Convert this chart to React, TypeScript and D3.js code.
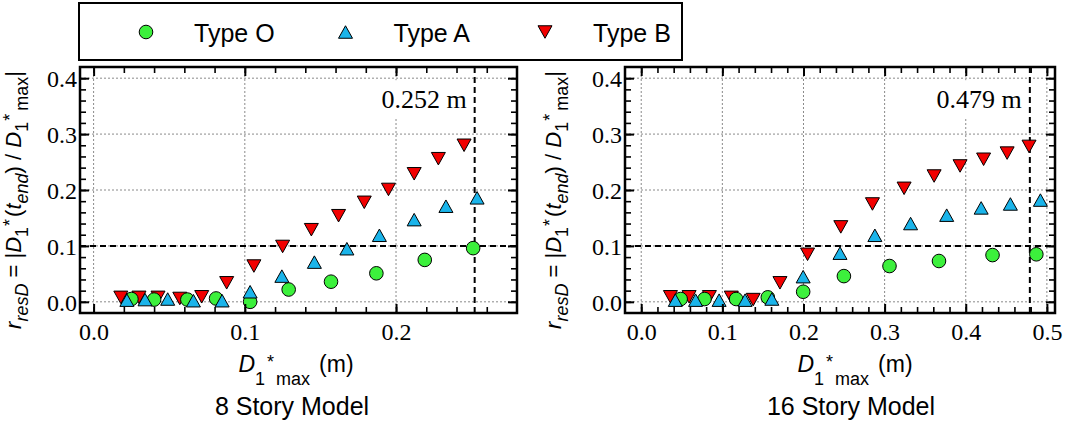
import React, { useEffect, useRef } from 'react';
import * as d3 from 'd3';

type Pt = [number, number];

// series names / colours (legend order)
const seriesNames = ['Type O', 'Type A', 'Type B'];
const seriesColors = ['#3cf03c', '#1ab4ea', '#f20000'];
const seriesShapes = ['circle', 'up', 'down'];

// 8 story model: [D1*max (m), r_resD]
const story8TypeO: Pt[] = [
  [0.025, 0.005], [0.040, 0.004], [0.062, 0.004], [0.081, 0.006], [0.1035, 0.0],
  [0.129, 0.022], [0.157, 0.036], [0.187, 0.051], [0.219, 0.075], [0.251, 0.096],
];
const story8TypeA: Pt[] = [
  [0.022, 0.003], [0.034, 0.004], [0.049, 0.005], [0.066, 0.002], [0.085, 0.002],
  [0.1035, 0.018], [0.1245, 0.046], [0.146, 0.071], [0.1675, 0.095], [0.189, 0.119],
  [0.212, 0.147], [0.233, 0.171], [0.2536, 0.186],
];
const story8TypeB: Pt[] = [
  [0.018, 0.008], [0.030, 0.008], [0.0426, 0.008], [0.057, 0.006], [0.0715, 0.009],
  [0.088, 0.034], [0.106, 0.064], [0.125, 0.099], [0.144, 0.129], [0.162, 0.154],
  [0.179, 0.178], [0.195, 0.201], [0.212, 0.229], [0.228, 0.256], [0.245, 0.280],
];

// 16 story model
const story16TypeO: Pt[] = [
  [0.0486, 0.005], [0.078, 0.005], [0.117, 0.005], [0.156, 0.008], [0.1996, 0.018],
  [0.2498, 0.046], [0.306, 0.064], [0.367, 0.073], [0.433, 0.0836], [0.487, 0.085],
];
const story16TypeA: Pt[] = [
  [0.042, 0.003], [0.067, 0.003], [0.096, 0.003], [0.128, 0.003], [0.161, 0.005],
  [0.1996, 0.045], [0.245, 0.087], [0.288, 0.119], [0.332, 0.140], [0.3765, 0.155],
  [0.419, 0.168], [0.455, 0.175], [0.492, 0.182],
];
const story16TypeB: Pt[] = [
  [0.036, 0.009], [0.059, 0.009], [0.084, 0.009], [0.111, 0.008], [0.138, 0.004],
  [0.171, 0.034], [0.205, 0.085], [0.246, 0.134], [0.285, 0.175], [0.324, 0.203],
  [0.361, 0.225], [0.393, 0.243], [0.422, 0.255], [0.451, 0.266], [0.478, 0.278],
];

const panelTitles = ['8 Story Model', '16 Story Model'];
const limitValues = [0.252, 0.479];
const limitLabels = ['0.252 m', '0.479 m'];
const thresholdValue = 0.1;
const yTickValues = [0, 0.1, 0.2, 0.3, 0.4];
const xTickValues = [
  [0, 0.1, 0.2],
  [0, 0.1, 0.2, 0.3, 0.4, 0.5],
];

const SERIF = '"Liberation Serif", "Times New Roman", serif';
const SANS = '"Liberation Sans", Arial, sans-serif';

const W = 1065;
const H = 426;

type Part = { t: string; size: number; italic?: boolean; dx?: number; dy?: number };

const appendParts = (text: d3.Selection<SVGTextElement, unknown, null, undefined>, parts: Part[]) => {
  parts.forEach(p => {
    text
      .append('tspan')
      .style('font-size', `${p.size}px`)
      .style('font-style', p.italic ? 'italic' : 'normal')
      .attr('dx', p.dx || 0)
      .attr('dy', p.dy || 0)
      .text(p.t);
  });
};

const yLabelParts: Part[] = [
  { t: 'r', size: 22, italic: true },
  { t: 'resD', size: 18, italic: true, dy: 7 },
  { t: ' = |', size: 22, dy: -7 },
  { t: 'D', size: 22, italic: true },
  { t: '1', size: 18, dy: 7 },
  { t: '*', size: 18, dx: 1, dy: -12 },
  { t: '(', size: 22, dx: 2, dy: 5 },
  { t: 't', size: 22, italic: true },
  { t: 'end', size: 18, italic: true, dy: 7 },
  { t: ') / ', size: 22, dy: -7 },
  { t: 'D', size: 22, italic: true },
  { t: '1', size: 18, dy: 7 },
  { t: '*', size: 18, dx: 1, dy: -12 },
  { t: 'max', size: 18, dx: 3, dy: 12 },
  { t: '|', size: 22, dy: -7 },
];

const xLabelParts: Part[] = [
  { t: 'D', size: 23, italic: true },
  { t: '1', size: 18, dy: 13 },
  { t: '*', size: 18, dx: 2, dy: -17 },
  { t: 'max', size: 18, dx: 2, dy: 17 },
  { t: '(m)', size: 23, dx: 9, dy: -13 },
];

const shapePath = (shape: string) => {
  const w = 14;
  const h = 12.5;
  if (shape === 'up') return `M0,${-h / 2}L${w / 2},${h / 2}L${-w / 2},${h / 2}Z`;
  if (shape === 'down') return `M0,${h / 2}L${w / 2},${-h / 2}L${-w / 2},${-h / 2}Z`;
  return d3.symbol().type(d3.symbolCircle).size(Math.PI * 6.8 * 6.8)() as string;
};

const inside = (lo: number, hi: number, step: number) =>
  d3
    .range(Math.ceil(lo / step - 1e-6), Math.floor(hi / step + 1e-6) + 1)
    .map(i => +(i * step).toFixed(4))
    .filter(v => v > lo + 1e-6 && v < hi - 1e-6);

const App: React.FC = () => {
  const svgRef = useRef<SVGSVGElement>(null);

  useEffect(() => {
    if (!svgRef.current) return;
    const svg = d3.select(svgRef.current);
    svg.selectAll('*').remove();

    const layouts = [
      { left: 80, right: 517, xDomain: [-0.009, 0.28], yLabelX: 21, titleX: 296 },
      { left: 625, right: 1055, xDomain: [-0.02, 0.51], yLabelX: 561, titleX: 855 },
    ];
    const top = 67;
    const bottom = 313;
    const yDomain = [-0.02, 0.42];
    const data = [
      [story8TypeO, story8TypeA, story8TypeB],
      [story16TypeO, story16TypeA, story16TypeB],
    ];
    const drawOrder = [2, 0, 1];

    layouts.forEach((lay, pi) => {
      const x = d3.scaleLinear().domain(lay.xDomain).range([lay.left, lay.right]);
      const y = d3.scaleLinear().domain(yDomain).range([bottom, top]);
      const g = svg.append('g');

      // grid
      g.selectAll('.vgrid')
        .data(xTickValues[pi])
        .enter()
        .append('line')
        .attr('x1', d => x(d))
        .attr('x2', d => x(d))
        .attr('y1', top)
        .attr('y2', bottom)
        .attr('stroke', '#8a8a8a')
        .attr('stroke-width', 1)
        .attr('stroke-dasharray', '2,2');
      g.selectAll('.hgrid')
        .data(yTickValues)
        .enter()
        .append('line')
        .attr('x1', lay.left)
        .attr('x2', lay.right)
        .attr('y1', d => y(d))
        .attr('y2', d => y(d))
        .attr('stroke', '#8a8a8a')
        .attr('stroke-width', 1)
        .attr('stroke-dasharray', '2,2');

      // limit annotation
      const labelEnd = x(limitValues[pi]) - 8;
      const box = g.append('rect').attr('fill', 'white');
      const lbl = g
        .append('text')
        .attr('x', labelEnd)
        .attr('y', 108)
        .attr('text-anchor', 'end')
        .style('font-family', SERIF)
        .style('font-size', '26px')
        .text(limitLabels[pi]);
      const bb = (lbl.node() as SVGTextElement).getBBox();
      box
        .attr('x', bb.x - 4)
        .attr('y', y(0.4) + 2)
        .attr('width', bb.width + 8)
        .attr('height', 117 - y(0.4) - 2);

      // dashed reference lines
      g.append('line')
        .attr('x1', lay.left)
        .attr('x2', lay.right)
        .attr('y1', y(thresholdValue))
        .attr('y2', y(thresholdValue))
        .attr('stroke', '#000')
        .attr('stroke-width', 2)
        .attr('stroke-dasharray', '6,4');
      g.append('line')
        .attr('x1', x(limitValues[pi]))
        .attr('x2', x(limitValues[pi]))
        .attr('y1', top)
        .attr('y2', bottom)
        .attr('stroke', '#000')
        .attr('stroke-width', 2)
        .attr('stroke-dasharray', '6,4');

      // markers
      drawOrder.forEach(si => {
        g.selectAll(`.s${si}`)
          .data(data[pi][si])
          .enter()
          .append('path')
          .attr('d', shapePath(seriesShapes[si]))
          .attr('transform', d => `translate(${x(d[0])},${y(d[1])})`)
          .attr('fill', seriesColors[si])
          .attr('stroke', '#000')
          .attr('stroke-width', 1);
      });

      // axes: major + minor, ticks inward on all sides
      const fmt = d3.format('.1f');
      const xMinor = inside(lay.xDomain[0], lay.xDomain[1], 0.02);
      const yMinor = inside(yDomain[0], yDomain[1], 0.02);
      const xMajor = xTickValues[pi].filter(v => v > lay.xDomain[0] && v < lay.xDomain[1]);

      const styleAxis = (sel: d3.Selection<SVGGElement, unknown, null, undefined>, w: number) => {
        sel.select('.domain').remove();
        sel.attr('font-family', SERIF).attr('font-size', 24);
        sel.selectAll('line').attr('stroke-width', w);
        sel
          .selectAll('text')
          .style('font-family', SERIF)
          .style('font-size', '24px')
          .attr('fill', '#000');
      };

      const bx = g.append('g').attr('transform', `translate(0,${bottom})`);
      bx.call(d3.axisBottom(x).tickValues(xMajor).tickSize(-9).tickSizeOuter(0).tickPadding(10).tickFormat(d => fmt(d as number)));
      styleAxis(bx, 2);
      const bxm = g.append('g').attr('transform', `translate(0,${bottom})`);
      bxm.call(d3.axisBottom(x).tickValues(xMinor).tickSize(-6).tickSizeOuter(0).tickFormat(() => ''));
      styleAxis(bxm, 1.6);

      const tx = g.append('g').attr('transform', `translate(0,${top})`);
      tx.call(d3.axisTop(x).tickValues(xMajor).tickSize(-9).tickSizeOuter(0).tickFormat(() => ''));
      styleAxis(tx, 2);
      const txm = g.append('g').attr('transform', `translate(0,${top})`);
      txm.call(d3.axisTop(x).tickValues(xMinor).tickSize(-6).tickSizeOuter(0).tickFormat(() => ''));
      styleAxis(txm, 1.6);

      const ly = g.append('g').attr('transform', `translate(${lay.left},0)`);
      ly.call(d3.axisLeft(y).tickValues(yTickValues).tickSize(-9).tickSizeOuter(0).tickPadding(3).tickFormat(d => fmt(d as number)));
      styleAxis(ly, 2);
      ly.selectAll('text').attr('dy', '0.36em');
      const lym = g.append('g').attr('transform', `translate(${lay.left},0)`);
      lym.call(d3.axisLeft(y).tickValues(yMinor).tickSize(-6).tickSizeOuter(0).tickFormat(() => ''));
      styleAxis(lym, 1.6);

      const ry = g.append('g').attr('transform', `translate(${lay.right},0)`);
      ry.call(d3.axisRight(y).tickValues(yTickValues).tickSize(-9).tickSizeOuter(0).tickFormat(() => ''));
      styleAxis(ry, 2);
      const rym = g.append('g').attr('transform', `translate(${lay.right},0)`);
      rym.call(d3.axisRight(y).tickValues(yMinor).tickSize(-6).tickSizeOuter(0).tickFormat(() => ''));
      styleAxis(rym, 1.6);

      // frame
      g.append('rect')
        .attr('x', lay.left)
        .attr('y', top)
        .attr('width', lay.right - lay.left)
        .attr('height', bottom - top)
        .attr('fill', 'none')
        .attr('stroke', '#000')
        .attr('stroke-width', 2.5);

      // axis titles
      const yl = g
        .append('text')
        .attr('transform', `translate(${lay.yLabelX},${(top + bottom) / 2 + 10}) rotate(-90)`)
        .attr('text-anchor', 'middle')
        .style('font-family', SANS)
        .style('white-space', 'pre');
      appendParts(yl, yLabelParts);

      const xl = g
        .append('text')
        .attr('x', lay.titleX)
        .attr('y', 372)
        .attr('text-anchor', 'middle')
        .style('font-family', SANS)
        .style('white-space', 'pre');
      appendParts(xl, xLabelParts);

      g.append('text')
        .attr('x', lay.titleX - 4)
        .attr('y', 415)
        .attr('text-anchor', 'middle')
        .style('font-family', SANS)
        .style('font-size', '25px')
        .text(panelTitles[pi]);
    });

    // legend
    const lg = svg.append('g');
    lg.append('rect')
      .attr('x', 79)
      .attr('y', 3)
      .attr('width', 603)
      .attr('height', 57)
      .attr('fill', 'white')
      .attr('stroke', '#000')
      .attr('stroke-width', 2);
    const legendX = d3.scalePoint<number>().domain([0, 1, 2]).range([146, 545]);
    seriesNames.forEach((name, i) => {
      lg.append('path')
        .attr('d', shapePath(seriesShapes[i]))
        .attr('transform', `translate(${legendX(i)},32)`)
        .attr('fill', seriesColors[i])
        .attr('stroke', '#000')
        .attr('stroke-width', 1);
      lg.append('text')
        .attr('x', (legendX(i) as number) + 48)
        .attr('y', 42)
        .style('font-family', SANS)
        .style('font-size', '25px')
        .text(name);
    });
  }, []);

  return (
    <svg
      ref={svgRef}
      width={W}
      height={H}
      style={{ position: 'absolute', left: 0, top: 0, background: 'white' }}
    ></svg>
  );
};

export default App;
